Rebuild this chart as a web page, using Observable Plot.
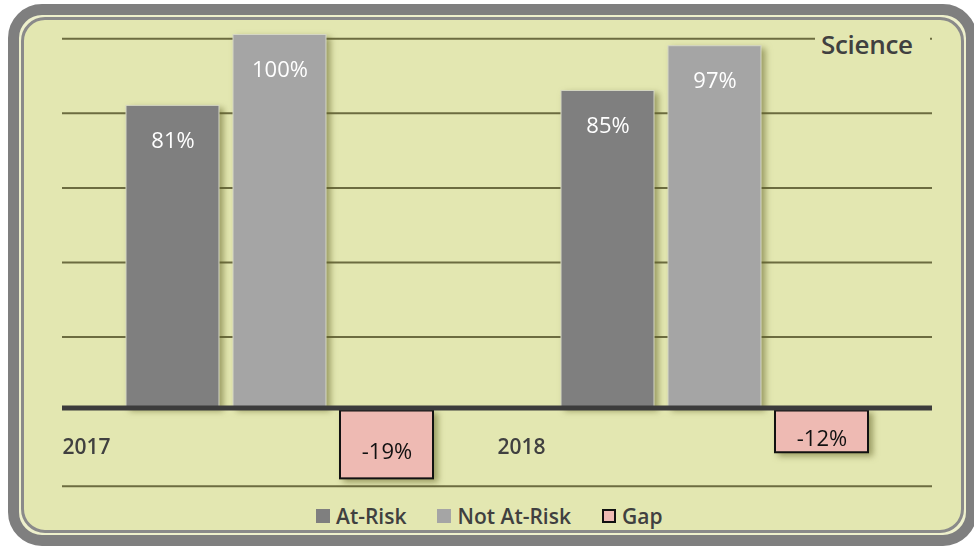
<!DOCTYPE html>
<html>
<head>
<meta charset="utf-8">
<script src="https://cdn.jsdelivr.net/npm/d3@7"></script>
<script src="https://cdn.jsdelivr.net/npm/@observablehq/plot@0.6"></script>
<style>
  html, body { margin: 0; padding: 0; background: #ffffff; }
  #wrap { position: relative; width: 974px; height: 548px; overflow: hidden; font-family: "Open Sans", "Noto Sans", sans-serif; }
  #outer { position: absolute; left: 8px; top: 4px; width: 947px; height: 520px; border: 11px solid #7f7f7f; border-radius: 34px; background: #eef0cc; }
  #inner { position: absolute; left: 2px; top: 2px; right: 2px; bottom: 2px; border: 3px solid #8a8a8a; border-radius: 24px; background: #e3e7b1; }
  #chart { position: absolute; left: 0; top: 0; }
  #chart svg g[aria-label="bar"] { filter: drop-shadow(4px 3px 3px rgba(95, 95, 35, 0.55)); }
  #chart svg g[aria-label="rule"].zero { filter: drop-shadow(0px 2px 1px rgba(95, 95, 35, 0.6)); }
  #title { position: absolute; left: 815px; top: 26px; width: 115px; height: 36px; background: #e3e7b1; color: #404040; font-size: 26px; font-weight: 600; line-height: 36px; padding-left: 6px; box-sizing: border-box; white-space: nowrap; letter-spacing: -0.3px; }
  #legend { position: absolute; left: 316px; top: 502px; display: flex; align-items: center; color: #404040; font-size: 21px; font-weight: 600; }
  #legend .item { display: flex; align-items: center; margin-right: 31px; }
  #legend .sw { width: 14px; height: 14px; margin-right: 6px; box-sizing: border-box; }
</style>
</head>
<body>
<div id="wrap">
  <div id="outer"><div id="inner"></div></div>
  <div id="chart"></div>
  <div id="title">Science</div>
  <div id="legend"></div>
</div>
<script>
// ---- data ----
const years = ["2017", "2018"];
const series = ["At-Risk", "Not At-Risk", "Gap"];
const atRisk = [81, 85];
const notAtRisk = [100, 97];
const gap = [-19, -12];
const gridValues = [99, 79, 59, 39, 19, -21];
const colors = ["#7f7f7f", "#a5a5a5", "#eebab3"];
const title = "Science";

const rows = [];
years.forEach((y, i) => {
  rows.push({year: y, series: series[0], value: atRisk[i]});
  rows.push({year: y, series: series[1], value: notAtRisk[i]});
  rows.push({year: y, series: series[2], value: gap[i]});
});
const posRows = rows.filter(d => d.series !== "Gap");
const gapRows = rows.filter(d => d.series === "Gap");
const fmt = v => `${v}%`;

const chart = Plot.plot({
  width: 974,
  height: 548,
  marginLeft: 61,
  marginRight: 42,
  marginTop: 34.5,
  marginBottom: 60.5,
  style: {background: "transparent", fontFamily: "'Open Sans', 'Noto Sans', sans-serif"},
  fx: {domain: years, padding: 0, axis: null},
  x: {domain: series, paddingInner: 0.13, paddingOuter: 0.58, axis: null},
  y: {domain: [-21.45, 100], axis: null},
  color: {domain: series, range: colors},
  marks: [
    Plot.ruleY(gridValues, {stroke: "#6c6c40", strokeWidth: 2}),
    Plot.barY(posRows, {fx: "year", x: "series", y: "value", fill: "series", stroke: "#d6d8c4", strokeWidth: 1}),
    Plot.barY(gapRows, {fx: "year", x: "series", y: "value", fill: "series", stroke: "#111111", strokeWidth: 2, insetTop: 3}),
    Plot.ruleY([0], {stroke: "#3c3c3c", strokeWidth: 5, className: "zero"}),
    Plot.text(posRows, {fx: "year", x: "series", y: "value", text: d => fmt(d.value), dy: 35, fill: "#ffffff", fontSize: 22}),
    Plot.text(gapRows, {fx: "year", x: "series", y: d => d.value / 2, text: d => fmt(d.value), dy: 9, fill: "#111111", fontSize: 22, fontWeight: 500}),
    Plot.text(years.map(y => ({year: y})), {fx: "year", text: "year", frameAnchor: "bottom-left", dy: -34, textAnchor: "start", fill: "#404040", fontSize: 21, fontWeight: 600})
  ]
});
document.getElementById("chart").appendChild(chart);
document.getElementById("title").textContent = title;

const legend = document.getElementById("legend");
series.forEach((s, i) => {
  const item = document.createElement("div");
  item.className = "item";
  const sw = document.createElement("div");
  sw.className = "sw";
  sw.style.background = colors[i];
  if (s === "Gap") sw.style.border = "2px solid #111";
  const t = document.createElement("span");
  t.textContent = s;
  item.appendChild(sw);
  item.appendChild(t);
  legend.appendChild(item);
});
</script>
</body>
</html>
